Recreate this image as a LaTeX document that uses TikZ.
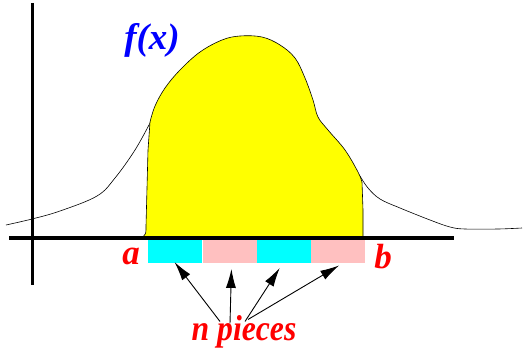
\documentclass[tikz,border=0pt]{standalone}
\usepackage{fontspec}
\setmainfont{Liberation Serif}[BoldItalicFont={Liberation Serif Bold Italic}]
\newfontfamily\labelfont{Liberation Serif Bold Italic}
\usepackage{tikz}
\usetikzlibrary{positioning,arrows.meta}
\definecolor{areaYellow}{RGB}{255,255,0}
\definecolor{stripCyan}{RGB}{0,255,255}
\definecolor{stripPink}{RGB}{255,192,192}
\definecolor{labelRed}{RGB}{255,0,0}
\definecolor{labelBlue}{RGB}{0,0,255}
\tikzset{
    axisLine/.style={line width=3.5pt, draw=black},
    curveLine/.style={line width=0.6pt, draw=black},
    stripBox/.style={rectangle, minimum height=23pt, minimum width=54pt, inner sep=0pt, anchor=north west},
    redLabel/.style={font=\labelfont\fontsize{35}{35}\selectfont, text=labelRed, inner sep=0pt},
    % arrows from the label
    pieceArrow/.style={-{Latex[length=19pt,width=10pt]}, line width=0.9pt}
}
\begin{document}
\begin{tikzpicture}[x=1pt, y=-1pt]
    \useasboundingbox (0,0) rectangle (526,353);
    % thin curve, left and right tails
    \draw[curveLine] plot[smooth, tension=0.6] coordinates {(6,225) (32,219) (60,211) (97,196) (115,178) (135,150) (150,123)};
    \draw[curveLine] plot[smooth, tension=0.6] coordinates {(360,176) (368,188) (380,199) (400,208) (430,220) (450,227) (465,229) (498,229) (522,228)};
    % shaded area
    \draw[curveLine, fill=areaYellow] (143,237) .. controls (146,235) and (146,233) .. (146,226) -- (148,150) -- (150,122)
        -- plot[smooth, tension=0.6] coordinates {(150,122) (155,106) (165,88) (180,70) (200,52) (222,40) (240,36) (262,37) (280,45) (295,58) (305,78) (313,100) (318,117) (328,130) (345,150) (358,172) (362,182)}
        -- (363,210) -- (363,237) -- cycle;
    % axes
    \draw[axisLine, line width=3pt] (32,3) -- (32,285);
    \draw[axisLine] (9,238) -- (454,238);
    % the pieces
    \node[stripBox, fill=stripCyan] (s1) at (148,239.5) {};
    \node[stripBox, fill=stripPink, right=0pt of s1] (s2) {};
    \node[stripBox, fill=stripCyan, right=0pt of s2] (s3) {};
    \node[stripBox, fill=stripPink, right=0pt of s3] (s4) {};
    % labels
    \node[redLabel] (a) at (131,256) {a};
    \node[redLabel] (b) at (383,257) {b};
    \node[font=\labelfont\fontsize{37}{37}\selectfont, text=labelBlue, inner sep=0pt] (fx) at (152,40) {f(x)};
    \node[redLabel, font=\labelfont\fontsize{36}{36}\selectfont] (pieces) at (244,332) {\scalebox{0.88}[1]{n pieces}};
    \draw[pieceArrow, shorten >=-1pt] ([xshift=-24pt,yshift=-6pt]pieces.north) -- (s1.south);
    \draw[pieceArrow, shorten >=6pt] ([xshift=-14pt,yshift=-8pt]pieces.north) -- ([xshift=2pt]s2.south);
    \draw[pieceArrow, shorten >=6pt] ([xshift=1pt,yshift=-6pt]pieces.north) -- ([xshift=-1pt]s3.south);
    \draw[pieceArrow, shorten >=5pt] ([xshift=4pt,yshift=-4pt]pieces.north) -- ([xshift=5pt]s4.south);
\end{tikzpicture}
\end{document}
